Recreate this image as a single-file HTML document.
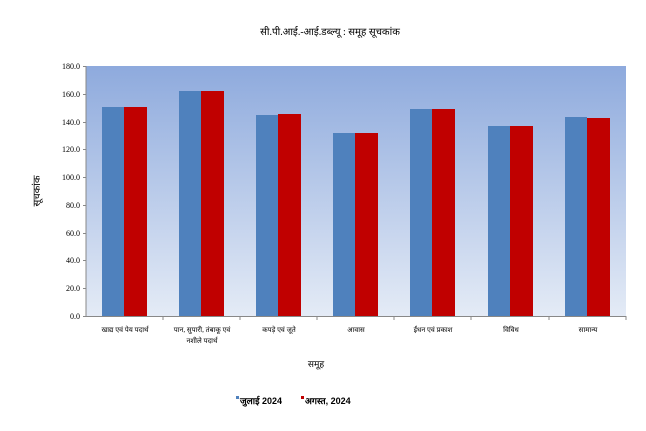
<!DOCTYPE html>
<html><head><meta charset="utf-8"><style>body{margin:0;background:#fff}svg{display:block}text{font-family:"Liberation Serif","Noto Serif CJK SC",serif;fill:#000}</style></head><body>
<svg width="646" height="431" viewBox="0 0 646 431" xmlns="http://www.w3.org/2000/svg">
<defs><linearGradient id="g" x1="0" y1="0" x2="0" y2="1"><stop offset="0" stop-color="#8eaadd"/><stop offset="1" stop-color="#e4ebf6"/></linearGradient></defs>
<text x="330" y="35" font-size="10" text-anchor="middle">सी.पी.आई.-आई.डब्ल्यू  :  समूह  सूचकांक</text>
<rect x="86" y="66" width="540" height="250" fill="url(#g)"/>
<g stroke="#888" stroke-width="1">
<line x1="86" y1="66" x2="86" y2="316"/><line x1="83" y1="316.5" x2="626" y2="316.5"/>
<line x1="163" y1="316" x2="163" y2="320"/><line x1="240" y1="316" x2="240" y2="320"/><line x1="317" y1="316" x2="317" y2="320"/><line x1="394" y1="316" x2="394" y2="320"/><line x1="471" y1="316" x2="471" y2="320"/><line x1="549" y1="316" x2="549" y2="320"/><line x1="626" y1="316" x2="626" y2="320"/>
<line x1="83" y1="66.5" x2="86" y2="66.5"/><line x1="83" y1="94.5" x2="86" y2="94.5"/><line x1="83" y1="122.5" x2="86" y2="122.5"/><line x1="83" y1="149.5" x2="86" y2="149.5"/><line x1="83" y1="177.5" x2="86" y2="177.5"/><line x1="83" y1="205.5" x2="86" y2="205.5"/><line x1="83" y1="233.5" x2="86" y2="233.5"/><line x1="83" y1="260.5" x2="86" y2="260.5"/><line x1="83" y1="288.5" x2="86" y2="288.5"/>
</g>
<g font-size="8" text-anchor="end">
<text x="80" y="69">180.0</text><text x="80" y="97">160.0</text><text x="80" y="125">140.0</text><text x="80" y="152">120.0</text><text x="80" y="180">100.0</text><text x="80" y="208">80.0</text><text x="80" y="236">60.0</text><text x="80" y="263">40.0</text><text x="80" y="291">20.0</text><text x="80" y="319">0.0</text>
</g>
<g fill="#4f81bd">
<rect x="102" y="107" width="22" height="209"/><rect x="179" y="91" width="22" height="225"/><rect x="256" y="115" width="22" height="201"/><rect x="333" y="133" width="22" height="183"/><rect x="410" y="109" width="22" height="207"/><rect x="488" y="126" width="22" height="190"/><rect x="565" y="117" width="22" height="199"/>
</g>
<g fill="#c00000">
<rect x="124" y="107" width="23" height="209"/><rect x="201" y="91" width="23" height="225"/><rect x="278" y="114" width="23" height="202"/><rect x="355" y="133" width="23" height="183"/><rect x="432" y="109" width="23" height="207"/><rect x="510" y="126" width="23" height="190"/><rect x="587" y="118" width="23" height="198"/>
</g>
<g font-size="7" text-anchor="middle">
<text x="125" y="332">खाद्य एवं पेय पदार्थ</text>
<text x="202" y="332">पान, सुपारी, तंबाकू एवं</text><text x="202" y="343">नशीले पदार्थ</text>
<text x="279" y="332">कपड़े एवं जूते</text>
<text x="356" y="332">आवास</text>
<text x="433" y="332">ईंधन एवं प्रकाश</text>
<text x="511" y="332">विविध</text>
<text x="588" y="332">सामान्य</text>
</g>
<text x="316" y="367" font-size="9" text-anchor="middle">समूह</text>
<text transform="translate(40,191) rotate(-90)" font-size="10" text-anchor="middle">सूचकांक</text>
<rect x="236" y="396" width="3" height="3" fill="#4f81bd"/>
<text x="240" y="404" font-size="9" font-weight="bold" style="font-family:'Liberation Sans',sans-serif">जुलाई 2024</text>
<rect x="301" y="396" width="3" height="3" fill="#c00000"/>
<text x="305" y="404" font-size="9" font-weight="bold" style="font-family:'Liberation Sans',sans-serif">अगस्त, 2024</text>
</svg>
</body></html>
